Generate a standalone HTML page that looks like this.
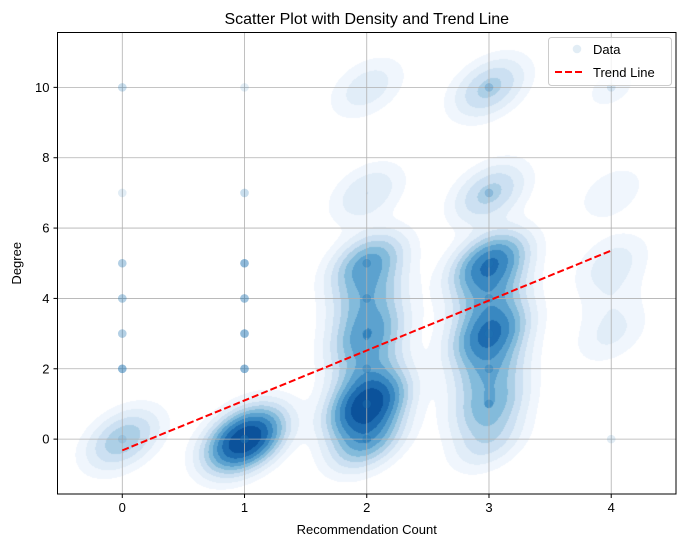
<!DOCTYPE html>
<html><head><meta charset="utf-8"><style>
html,body{margin:0;padding:0;background:#fff;}
#wrap{position:relative;width:686px;height:547px;font-family:"Liberation Sans","DejaVu Sans",sans-serif;}
canvas,svg{position:absolute;left:0;top:0;}
</style></head><body>
<div id="wrap">
<canvas id="dens" width="686" height="547"></canvas>
<svg id="svg" width="686" height="547"></svg>
</div>
<script>
// ---- data ----
const pointX = [0,0,0,0,0,0,0, 1,1,1,1,1,1,1, 2,2,2,2,2,2, 3,3,3,3,3,3,3, 4,4];
const pointY = [0,2,3,4,5,7,10, 0,2,3,4,5,7,10, 0,1,2,3,4,5, 1,2,3,4,5,7,10, 0,10];
const pointCount = [1,5,3,3,3,1,2, 5,5,5,4,5,2,1, 3,3,3,3,3,3, 3,3,3,3,3,2,2, 1,1];
const kdeX = [0, 1, 2,2,2,2,2,2,2,2, 3,3,3,3,3,3,3,3, 4,4,4,4,4];
const kdeY = [0, 0, 0,1,2,3,4,5,7,10, 0,1,2,3,4,5,7,10, 3,4,5,7,10];
const kdeW = [0.28, 1.0, 0.4,0.9,0.28,0.42,0.28,0.42,0.14,0.12, 0.18,0.32,0.3,0.62,0.3,0.62,0.24,0.24, 0.09,0.05,0.11,0.07,0.05];
const trendSlope = [1.42];
const trendIntercept = [-0.32];
const xTicks = [0,1,2,3,4];
const yTicks = [0,2,4,6,8,10];

// ---- axes ----
const L=57.5,R=676,T=32.5,B=494;
const xMin=-0.53,xMax=4.53,yMin=-1.56,yMax=11.56;
const sx=v=>L+(v-xMin)/(xMax-xMin)*(R-L);
const sy=v=>B-(v-yMin)/(yMax-yMin)*(B-T);
const NS='http://www.w3.org/2000/svg';
const svg=document.getElementById('svg');
function mk(tag,attrs,parent){const e=document.createElementNS(NS,tag);for(const k in attrs)e.setAttribute(k,attrs[k]);(parent||svg).appendChild(e);return e;}

// ---- density ----
const cv=document.getElementById('dens');const ctx=cv.getContext('2d');
const img=ctx.createImageData(686,547);
const sgx=0.19,sgy=0.55,rho=0.4;
const levels=[0.035,0.08,0.14,0.21,0.29,0.38,0.49,0.62,0.78];
const cols=[[240,246,253],[225,237,248],[204,224,242],[172,207,230],[131,187,219],[92,162,207],[57,136,193],[29,107,175],[11,82,155]];
let vals=new Float32Array(686*547),mx=0;
for(let py=Math.ceil(T);py<B;py++){for(let px=Math.ceil(L);px<R;px++){
 const x=xMin+(px-L)/(R-L)*(xMax-xMin), y=yMin+(B-py)/(B-T)*(yMax-yMin);
 let d=0;
 for(let i=0;i<kdeX.length;i++){const u=(x-kdeX[i])/sgx,v=(y-kdeY[i])/sgy;
  const q=(u*u-2*rho*u*v+v*v)/(1-rho*rho);if(q<30)d+=kdeW[i]*Math.exp(-0.5*q);}
 vals[py*686+px]=d;if(d>mx)mx=d;}}
for(let i=0;i<vals.length;i++){const f=vals[i]/mx;let k=-1;for(let j=0;j<levels.length;j++)if(f>=levels[j])k=j;
 if(k>=0){img.data[i*4]=cols[k][0];img.data[i*4+1]=cols[k][1];img.data[i*4+2]=cols[k][2];img.data[i*4+3]=255;}}
ctx.putImageData(img,0,0);

// ---- grid ----
xTicks.forEach(t=>{const g=mk('line',{x1:sx(t),x2:sx(t),y1:T,y2:B,stroke:'#b0b0b0','stroke-width':0.8});
});
yTicks.forEach(t=>{const g=mk('line',{x1:L,x2:R,y1:sy(t),y2:sy(t),stroke:'#b0b0b0','stroke-width':0.8});
});

// ---- points ----
const pg=mk('g',{});
for(let i=0;i<pointX.length;i++){for(let c=0;c<pointCount[i];c++){
 const p=mk('circle',{cx:sx(pointX[i]),cy:sy(pointY[i]),r:4.3,fill:'#1f77b4','fill-opacity':0.13},pg);
 }}

// ---- trend ----
const x0=Math.min(...pointX),x1=Math.max(...pointX);
const tl=mk('line',{x1:sx(x0),y1:sy(trendIntercept[0]+trendSlope[0]*x0),x2:sx(x1),y2:sy(trendIntercept[0]+trendSlope[0]*x1),stroke:'#ff0000','stroke-width':2,'stroke-dasharray':'7,3'});


// ---- frame & ticks ----
const fr=mk('rect',{x:L,y:T,width:R-L,height:B-T,fill:'none',stroke:'#000','stroke-width':1});

xTicks.forEach(t=>{mk('line',{x1:sx(t),x2:sx(t),y1:B,y2:B+4,stroke:'#000'});
 const tx=mk('text',{x:sx(t),y:B+18,'font-size':13,'text-anchor':'middle'});tx.textContent=t;
 });
yTicks.forEach(t=>{mk('line',{x1:L-4,x2:L,y1:sy(t),y2:sy(t),stroke:'#000'});
 const tx=mk('text',{x:L-8,y:sy(t)+4.5,'font-size':13,'text-anchor':'end'});tx.textContent=t;
 });

let t=mk('text',{x:(L+R)/2,y:24,'font-size':16,'text-anchor':'middle'});t.textContent='Scatter Plot with Density and Trend Line';

t=mk('text',{x:(L+R)/2,y:534,'font-size':13,'text-anchor':'middle'});t.textContent='Recommendation Count';

t=mk('text',{x:0,y:0,'font-size':13,'text-anchor':'middle',transform:`translate(21,${(T+B)/2}) rotate(-90)`});t.textContent='Degree';


// ---- legend ----
const lg=mk('g',{});
mk('rect',{x:548.5,y:37.5,width:123,height:48,rx:3,fill:'#fff','fill-opacity':0.8,stroke:'#ccc'},lg);
let m=mk('circle',{cx:577,cy:49,r:4.3,fill:'#1f77b4','fill-opacity':0.13},lg);

t=mk('text',{x:593,y:54,'font-size':13},lg);t.textContent='Data';

m=mk('line',{x1:555,x2:583,y1:72,y2:72,stroke:'#ff0000','stroke-width':2,'stroke-dasharray':'7,3'},lg);

t=mk('text',{x:593,y:77,'font-size':13},lg);t.textContent='Trend Line';

</script>
</body></html>
